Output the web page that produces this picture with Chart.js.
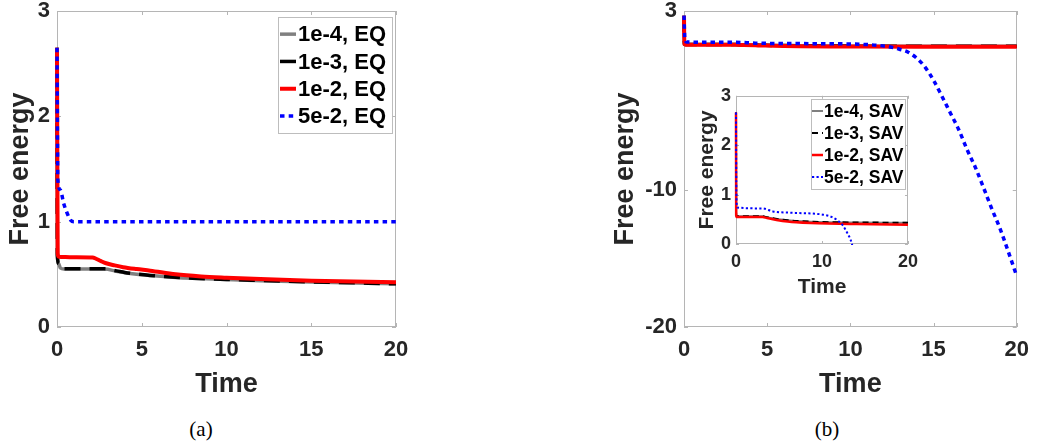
<!DOCTYPE html>
<html>
<head>
<meta charset="utf-8">
<script src="https://cdn.jsdelivr.net/npm/chart.js@4"></script>
<style>
  body { margin: 0; background: #fff; width: 1039px; height: 444px; position: relative; overflow: hidden; }
  canvas { position: absolute; }
  .cap { position: absolute; top: 417px; font: 21px "Liberation Serif", "Times New Roman", serif; color: #000; width: 60px; text-align: center; }
</style>
</head>
<body>
<canvas id="chartA" width="420" height="410" style="left:0px;top:-10px"></canvas>
<canvas id="chartB" width="439" height="410" style="left:600px;top:-10px"></canvas>
<canvas id="chartIn" width="235" height="220" style="left:690px;top:80px"></canvas>
<div class="cap" style="left:171px">(a)</div>
<div class="cap" style="left:797px">(b)</div>
<script>
// tick labels
var timeTicks = [0, 5, 10, 15, 20]
var timeTicksInset = [0, 10, 20]
var energyTicksA = [0, 1, 2, 3]
var energyTicksB = [-20, -10, 3]
var energyTicksInset = [0, 1, 2, 3]
var stepLabels = ['1e-4', '1e-3', '1e-2', '5e-2']

// (a) EQ scheme
var eqTimeSlow = [0, 0.02, 0.1, 0.2, 0.4, 2, 2.8, 3.5, 4, 4.7, 5.5, 7, 8, 10, 12, 15, 20]
var eqGray = [2.65, 0.68, 0.6, 0.56, 0.551, 0.551, 0.55, 0.53, 0.515, 0.5, 0.488, 0.47, 0.462, 0.45, 0.44, 0.427, 0.41]
var eqBlack = [2.65, 0.68, 0.6, 0.56, 0.553, 0.553, 0.552, 0.533, 0.518, 0.503, 0.49, 0.472, 0.463, 0.451, 0.442, 0.429, 0.41]
var eqTimeRed = [0, 0.04, 0.1, 0.5, 1, 2.1, 2.3, 2.6, 2.9, 3.4, 3.9, 4.7, 5.5, 7, 8.5, 10, 12, 15, 20]
var eqRed = [2.65, 0.7, 0.668, 0.664, 0.662, 0.66, 0.648, 0.625, 0.605, 0.585, 0.568, 0.55, 0.535, 0.5, 0.48, 0.468, 0.455, 0.44, 0.425]
var eqTimeBlue = [0, 0.05, 0.2, 0.4, 0.6, 0.8, 1, 20]
var eqBlue = [2.65, 1.4, 1.3, 1.17, 1.08, 1.015, 1.0, 1.0]

// (b) SAV scheme
var savTime = [0, 0.02, 0.1, 3.1, 3.6, 4.3, 4.9, 6, 7, 8.7, 10.7, 14, 20]
var savGray = [2.66, 0.6, 0.56, 0.56, 0.54, 0.52, 0.5, 0.48, 0.465, 0.45, 0.44, 0.435, 0.43]
var savBlack = [2.66, 0.6, 0.56, 0.56, 0.542, 0.522, 0.502, 0.482, 0.467, 0.452, 0.442, 0.436, 0.43]
var savRed = [2.66, 0.58, 0.545, 0.545, 0.525, 0.5, 0.48, 0.455, 0.44, 0.425, 0.415, 0.405, 0.39]
var savTimeBlue = [0, 0.05, 0.15, 3.1, 4.3, 6.9, 9.9, 11.1, 11.8, 12.4, 12.95, 13.45, 14, 14.5, 15, 15.5, 16, 16.5, 17, 17.5, 18, 18.5, 19, 19.5, 20]
var savBlue = [2.66, 1.0, 0.74, 0.72, 0.66, 0.63, 0.6, 0.55, 0.48, 0.38, 0.22, 0.02, -0.45, -1.1, -2.05, -3.2, -4.4, -5.6, -7.05, -8.35, -9.85, -11.4, -12.85, -14.55, -16.3]

var FONT = '"Liberation Sans", Arial, sans-serif'
var TXT = '#262626'

// ordem: o ultimo da legenda fica por cima (como no MATLAB)
function serie(label, tempos, valores, cor, largura, traco, ordem, corte) {
    return {
        label: label,
        data: tempos.map(function (t, i) { return { x: t, y: valores[i] } }),
        borderColor: cor,
        borderWidth: largura,
        borderDash: traco,
        pointRadius: 0,
        fill: false,
        order: ordem,
        clip: corte,
        cubicInterpolationMode: 'monotone'
    }
}

var semCorte = false
var corteBaixo = { left: false, top: false, right: false, bottom: 1 }

// frame + inward ticks, MATLAB style
var moldura = {
    id: 'moldura',
    beforeDatasetsDraw(chart, args, o) {
        var ctx = chart.ctx, a = chart.chartArea, sx = chart.scales.x, sy = chart.scales.y
        ctx.save()
        ctx.fillStyle = '#fff'
        ctx.fillRect(a.left, a.top, a.right - a.left, a.bottom - a.top)
        ctx.strokeStyle = '#b5b5b5'
        ctx.lineWidth = 1
        ctx.strokeRect(Math.round(a.left) + 0.5, Math.round(a.top) + 0.5, Math.round(a.right - a.left) - 1, Math.round(a.bottom - a.top) - 1)
        ctx.beginPath()
        sx.ticks.forEach(function (t) {
            var p = Math.round(sx.getPixelForValue(t.value)) + 0.5
            ctx.moveTo(p, a.bottom); ctx.lineTo(p, a.bottom - o.len)
            ctx.moveTo(p, a.top); ctx.lineTo(p, a.top + o.len)
        })
        sy.ticks.forEach(function (t) {
            var p = Math.round(sy.getPixelForValue(t.value)) + 0.5
            ctx.moveTo(a.left, p); ctx.lineTo(a.left + o.len, p)
            ctx.moveTo(a.right, p); ctx.lineTo(a.right - o.len, p)
        })
        ctx.stroke()
        ctx.restore()
    }
}

// boxed legend inside the axes, top right
var legendaCaixa = {
    id: 'legendaCaixa',
    afterDraw(chart, args, o) {
        var ctx = chart.ctx, a = chart.chartArea, sets = chart.data.datasets
        ctx.save()
        ctx.font = 'bold ' + o.size + 'px ' + FONT
        var tw = Math.max.apply(null, sets.map(function (d) { return ctx.measureText(d.label).width }))
        var w = o.padL + o.sample + o.gap + tw + o.padR
        var h = o.padV * 2 + sets.length * o.rowH
        var x0 = Math.round(a.right - o.offR - w), y0 = Math.round(a.top + o.offT)
        ctx.fillStyle = '#fff'
        ctx.fillRect(x0, y0, w, h)
        ctx.strokeStyle = '#bdbdbd'
        ctx.lineWidth = 1
        ctx.strokeRect(x0 + 0.5, y0 + 0.5, Math.round(w), Math.round(h))
        sets.forEach(function (d, i) {
            var cy = y0 + o.padV + o.rowH * (i + 0.5)
            ctx.beginPath()
            ctx.strokeStyle = d.borderColor
            ctx.lineWidth = d.borderWidth
            ctx.setLineDash(d.borderDash || [])
            ctx.moveTo(x0 + o.padL, cy)
            ctx.lineTo(x0 + o.padL + o.sample, cy)
            ctx.stroke()
            ctx.setLineDash([])
            ctx.fillStyle = '#000'
            ctx.textAlign = 'left'
            ctx.textBaseline = 'middle'
            ctx.fillText(d.label, x0 + o.padL + o.sample + o.gap, cy + 1)
        })
        ctx.restore()
    }
}

function eixos(cfg) {
    return {
        x: {
            type: 'linear', min: cfg.xMin, max: cfg.xMax,
            afterBuildTicks: function (s) { s.ticks = cfg.xTicks.map(function (v) { return { value: v } }) },
            afterFit: function (s) { s.height = cfg.xH },
            grid: { display: false, drawTicks: false }, border: { display: false },
            ticks: { autoSkip: false, maxRotation: 0, padding: cfg.xPad, color: TXT, font: { family: FONT, size: cfg.tick, weight: 'bold' } },
            title: { display: true, text: 'Time', color: TXT, padding: { top: 0, bottom: cfg.xTitlePad }, font: { family: FONT, size: cfg.title, weight: 'bold' } }
        },
        y: {
            type: 'linear', min: cfg.yMin, max: cfg.yMax,
            afterBuildTicks: function (s) { s.ticks = cfg.yTicks.map(function (v) { return { value: v } }) },
            afterFit: function (s) { s.width = cfg.yW },
            grid: { display: false, drawTicks: false }, border: { display: false },
            ticks: { autoSkip: false, padding: cfg.yPad, color: TXT, font: { family: FONT, size: cfg.tick, weight: 'bold' } },
            title: { display: true, text: 'Free energy', color: TXT, padding: { top: cfg.yTitlePad, bottom: 0 }, font: { family: FONT, size: cfg.title, weight: 'bold' } }
        }
    }
}

var grafico = new Chart(document.getElementById('chartA'), {
    type: 'line',
    data: {
        datasets: [
            serie(stepLabels[0] + ', EQ', eqTimeSlow, eqGray, '#808080', 3.5, [], 4, semCorte),
            serie(stepLabels[1] + ', EQ', eqTimeSlow, eqBlack, '#000000', 3.5, [16, 9], 3, semCorte),
            serie(stepLabels[2] + ', EQ', eqTimeRed, eqRed, '#ff0000', 4, [], 2, semCorte),
            serie(stepLabels[3] + ', EQ', eqTimeBlue, eqBlue, '#0000ff', 3.5, [4.5, 4.2], 1, semCorte)
        ]
    },
    options: {
        responsive: false, animation: false,
        layout: { padding: { top: 21, right: 24, left: 0, bottom: 0 } },
        scales: eixos({ xMin: 0, xMax: 20, yMin: 0, yMax: 3, xTicks: timeTicks, yTicks: energyTicksA,
            xH: 73, yW: 57, xPad: 10, yPad: 7, tick: 22, title: 27, xTitlePad: -1, yTitlePad: 4 }),
        plugins: {
            legend: { display: false }, tooltip: { enabled: false },
            moldura: { len: 4 },
            legendaCaixa: { size: 22, rowH: 27.3, padV: 3.5, padL: 2, sample: 16, gap: 2, padR: 6, offR: 4, offT: 6 }
        }
    },
    plugins: [moldura, legendaCaixa]
})

var graficoB = new Chart(document.getElementById('chartB'), {
    type: 'line',
    data: {
        datasets: [
            serie(stepLabels[0] + ', SAV', savTime, savGray, '#808080', 3.5, [], 4, semCorte),
            serie(stepLabels[1] + ', SAV', savTime, savBlack, '#000000', 3.5, [16, 9], 3, semCorte),
            serie(stepLabels[2] + ', SAV', savTime, savRed, '#ff0000', 4, [], 2, semCorte),
            serie(stepLabels[3] + ', SAV', savTimeBlue, savBlue, '#0000ff', 3.5, [4.5, 4], 1, semCorte)
        ]
    },
    options: {
        responsive: false, animation: false,
        layout: { padding: { top: 21, right: 17, left: 0, bottom: 0 } },
        scales: eixos({ xMin: 0, xMax: 20, yMin: -20, yMax: 3, xTicks: timeTicks, yTicks: energyTicksB,
            xH: 73, yW: 84, xPad: 10, yPad: 7, tick: 22, title: 27, xTitlePad: -1, yTitlePad: 9 }),
        plugins: {
            legend: { display: false }, tooltip: { enabled: false },
            moldura: { len: 4 }
        }
    },
    plugins: [moldura]
})

var graficoIn = new Chart(document.getElementById('chartIn'), {
    type: 'line',
    data: {
        datasets: [
            serie(stepLabels[0] + ', SAV', savTime, savGray, '#808080', 2, [], 4, corteBaixo),
            serie(stepLabels[1] + ', SAV', savTime, savBlack, '#000000', 2, [6, 4], 3, corteBaixo),
            serie(stepLabels[2] + ', SAV', savTime, savRed, '#ff0000', 2.5, [], 2, corteBaixo),
            serie(stepLabels[3] + ', SAV', savTimeBlue, savBlue, '#0000ff', 2, [2.2, 2.3], 1, corteBaixo)
        ]
    },
    options: {
        responsive: false, animation: false,
        layout: { padding: { top: 15, right: 13, left: 0, bottom: 0 } },
        scales: eixos({ xMin: 0, xMax: 20, yMin: 0, yMax: 3, xTicks: timeTicksInset, yTicks: energyTicksInset,
            xH: 56, yW: 46, xPad: 7, yPad: 5, tick: 18, title: 21, xTitlePad: 0, yTitlePad: 5 }),
        plugins: {
            legend: { display: false }, tooltip: { enabled: false },
            moldura: { len: 3 },
            legendaCaixa: { size: 17.5, rowH: 22, padV: 1, padL: 1, sample: 11, gap: 1, padR: 2, offR: 3, offT: 3 }
        }
    },
    plugins: [moldura, legendaCaixa]
})
</script>
</body>
</html>
